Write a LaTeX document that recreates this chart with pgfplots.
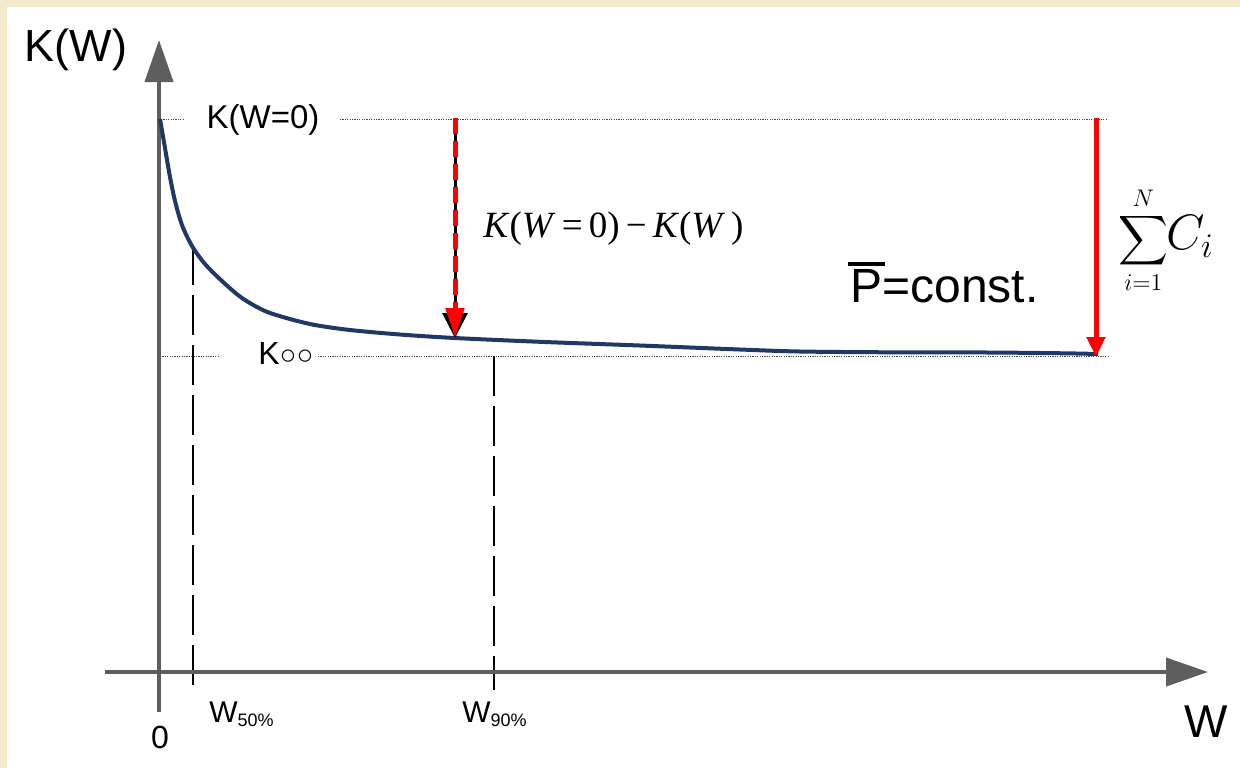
\documentclass[border=0pt]{standalone}
\usepackage{amsmath}
\usepackage{pgfplots}
\pgfplotsset{compat=1.18}
\usetikzlibrary{arrows.meta}
\usepackage{fontspec}
\setmainfont{Liberation Sans}
\newfontfamily\tms{Liberation Serif}
\definecolor{cream}{RGB}{242,235,206}
\definecolor{navy}{RGB}{31,56,100}
\definecolor{axgray}{RGB}{94,94,94}
\definecolor{dotgray}{RGB}{70,70,70}
\begin{document}
\begin{tikzpicture}
\begin{axis}[
    width=620pt, height=384pt, scale only axis,
    xmin=0, xmax=1240, ymin=0, ymax=768, y dir=reverse,
    hide axis, clip=false]
  % page background
  \fill[cream] (rel axis cs:0,0) rectangle (rel axis cs:1,1);
  \fill[white] (axis cs:7,7) rectangle (axis cs:1240,768);

  % guide lines
  \addplot[dotgray, line width=0.5pt, dash pattern=on 0.6pt off 0.6pt] coordinates {(161,119) (185,119)};
  \addplot[dotgray, line width=0.5pt, dash pattern=on 0.6pt off 0.6pt] coordinates {(340,119) (1108,119)};
  \addplot[dotgray, line width=0.5pt, dash pattern=on 0.6pt off 0.6pt] coordinates {(160,356) (220,356)};
  \addplot[dotgray, line width=0.5pt, dash pattern=on 0.6pt off 0.6pt] coordinates {(318,356) (1108,356)};
  \addplot[black, line width=0.7pt, dash pattern=on 20pt off 5pt] coordinates {(193,245) (193,690)};
  \addplot[black, line width=0.7pt, dash pattern=on 20pt off 5pt] coordinates {(494,356) (494,690)};

  % axes
  \addplot[axgray, line width=2pt, -{Triangle[length=21pt,width=14pt]}] coordinates {(159,712) (159,40)};
  \addplot[axgray, line width=2pt, -{Triangle[length=21pt,width=14pt]}] coordinates {(105,672) (1208,672)};

  % K(W) curve
  \addplot[navy, line width=2pt, smooth, tension=0.5] coordinates {
    (160,119) (165,148) (170,177) (175,201) (182,225) (192,246)
    (205,264) (222,281) (242,298) (265,311) (290,319) (315,325)
    (350,330) (400,334.5) (455,338) (540,341.8) (640,345.5)
    (740,349.5) (800,351.5) (890,352.3) (990,352.5) (1065,353.3) (1098,354)};

  % arrows
  \addplot[black, line width=1.5pt, -{Triangle[length=12.5pt,width=12.5pt]}] coordinates {(455,118) (455,338)};
  \addplot[red, line width=2.5pt, dash pattern=on 8pt off 3.5pt, -{Triangle[length=15pt,width=9pt]}] coordinates {(455,118) (455,338)};
  \addplot[red, line width=2.5pt, -{Triangle[length=10pt,width=9pt]}] coordinates {(1096,118) (1096,357)};

  % labels
  \node[font=\fontsize{22.5}{26}\selectfont] at (axis cs:76,50) {K(W)};
  \node[font=\fontsize{16.5}{20}\selectfont] at (axis cs:263,120) {K(W=0)};
  \node[font=\fontsize{16}{19}\selectfont, anchor=base west, inner sep=0pt] at (axis cs:258,364)
    {K{\fontsize{14}{16}\selectfont ○○}};
  \node[font=\fontsize{16}{19}\selectfont] at (axis cs:160,737) {0};
  \node[font=\fontsize{15}{18}\selectfont, anchor=base west, inner sep=0pt] at (axis cs:209,722)
    {W\raisebox{-2pt}{\fontsize{9}{10}\selectfont 50\%}};
  \node[font=\fontsize{15}{18}\selectfont, anchor=base west, inner sep=0pt] at (axis cs:462,722)
    {W\raisebox{-2pt}{\fontsize{9}{10}\selectfont 90\%}};
  \node[font=\fontsize{23}{27}\selectfont] at (axis cs:1206,722) {W};
  \node[font=\fontsize{24}{28}\selectfont, anchor=base west, inner sep=0pt] at (axis cs:850,302)
    {\rlap{\kern-0.05em\raisebox{0.76em}{\rule{0.78em}{0.08em}}}P=const.};
  \node[font=\tms\fontsize{18.5}{22}\selectfont, anchor=base west, inner sep=0pt] at (axis cs:483,237)
    {\textit{K}(\textit{W}\,=\,0)\,−\,\textit{K}(\textit{W}\,)};
  \node[inner sep=0pt] at (axis cs:1166,240)
    {{\fontsize{18}{22}\selectfont$\displaystyle\sum_{i=1}^{N}$}\kern-1pt{\fontsize{23}{27}\selectfont$C_i$}};
\end{axis}
\end{tikzpicture}
\end{document}
